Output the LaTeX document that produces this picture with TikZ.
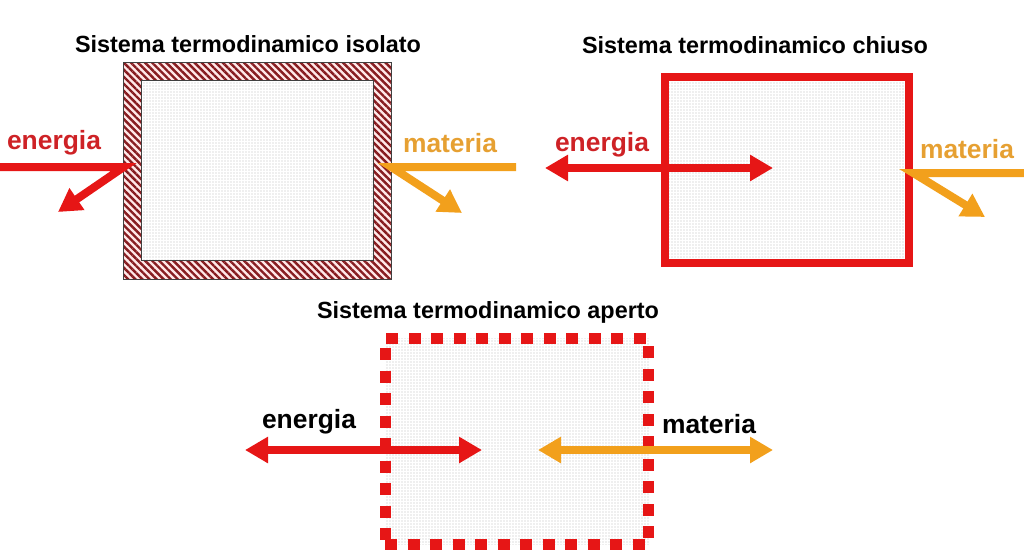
\documentclass[tikz,border=0pt]{standalone}
\usepackage{fontspec}
\setmainfont{Liberation Sans}
\usetikzlibrary{arrows.meta,patterns.meta}
\definecolor{rosso}{RGB}{230,22,22}
\definecolor{rossotesto}{RGB}{206,34,38}
\definecolor{arancio}{RGB}{242,160,28}
\definecolor{ocra}{RGB}{230,160,50}
\definecolor{tratteggio}{RGB}{135,28,32}
\definecolor{rosa}{RGB}{255,232,232}
\definecolor{interno}{RGB}{240,242,245}

\begin{document}
\begin{tikzpicture}[x=1pt,y=-1pt,
	titolo/.style={font=\fontsize{23.4}{28}\selectfont\bfseries},
	etichetta/.style={font=\fontsize{26.4}{30}\selectfont\bfseries},
	interno/.style={fill=interno, pattern={Dots[distance=3pt,radius=0.65pt]}, pattern color=black!28, inner sep=0},
	freccia/.style={line width=8pt, line join=miter, -{Triangle[length=23pt,width=25pt]}},
	doppia/.style={line width=8pt, {Triangle[length=23pt,width=25pt]}-{Triangle[length=23pt,width=25pt]}}]
		\useasboundingbox (0,0) rectangle (1024,554);

		% isolato
		\node (isolato)[minimum width=267pt, minimum height=216pt, inner sep=0] at (257.5,171) {};
		\node (cavita)[interno, minimum width=231pt, minimum height=179pt] at (257.5,170.5) {};
		\fill [rosa, even odd rule]
			(isolato.north west) rectangle (isolato.south east)
			(cavita.north west) rectangle (cavita.south east);
		\fill [pattern={Lines[angle=-45,distance=5pt,line width=2.4pt]}, pattern color=tratteggio, even odd rule]
			(isolato.north west) rectangle (isolato.south east)
			(cavita.north west) rectangle (cavita.south east);
		\draw [black!75, line width=1pt] (isolato.north west) rectangle (isolato.south east);
		\draw [black!75, line width=1pt] (cavita.north west) rectangle (cavita.south east);
		\node (t1)[titolo] at (248,44) {Sistema termodinamico isolato};

		% chiuso
		\node (chiuso)[interno, draw=rosso, line width=8.5pt, minimum width=244pt, minimum height=186pt] at (787,170) {};
		\node (t2)[titolo] at (755,45) {Sistema termodinamico chiuso};

		% aperto
		\node (aperto)[interno, draw=rosso, line width=11pt, dash pattern=on 12pt off 10.5pt, minimum width=263.5pt, minimum height=206pt] at (516.75,441.5) {};
		\node (t3)[titolo] at (488,312) {Sistema termodinamico aperto};

		\coordinate (e1) at (0,167);
		\coordinate (e1f) at (58,212);
		\coordinate (m1) at (516,167);
		\coordinate (m1f) at (462,213);
		\coordinate (e2) at (545,168);
		\coordinate (e2f) at (773,168);
		\coordinate (m2) at (1024,173);
		\coordinate (m2f) at (985,217);
		\coordinate (e3) at (245,450);
		\coordinate (e3f) at (482,450);
		\coordinate (m3) at (538,450);
		\coordinate (m3f) at (773,450);

		\node (l1)[etichetta, rossotesto] at (54,143) {energia};
		\node (l2)[etichetta, ocra] at (450,143) {materia};
		\node (l3)[etichetta, rossotesto] at (602,145) {energia};
		\node (l4)[etichetta, ocra] at (967,149) {materia};
		\node (l5)[etichetta] at (309,422) {energia};
		\node (l6)[etichetta] at (709,424) {materia};

		\draw [freccia, rosso](e1) -- (isolato.west |- e1) -- (e1f);
		\draw [freccia, arancio](m1) -- (isolato.east |- m1) -- (m1f);

		\draw [doppia, rosso](e2) -- (e2f);
		\draw [freccia, arancio](m2) -- (chiuso.east |- m2) -- (m2f);

		\draw [doppia, rosso](e3) -- (e3f);
		\draw [doppia, arancio](m3) -- (m3f);
	\end{tikzpicture}
\end{document}
